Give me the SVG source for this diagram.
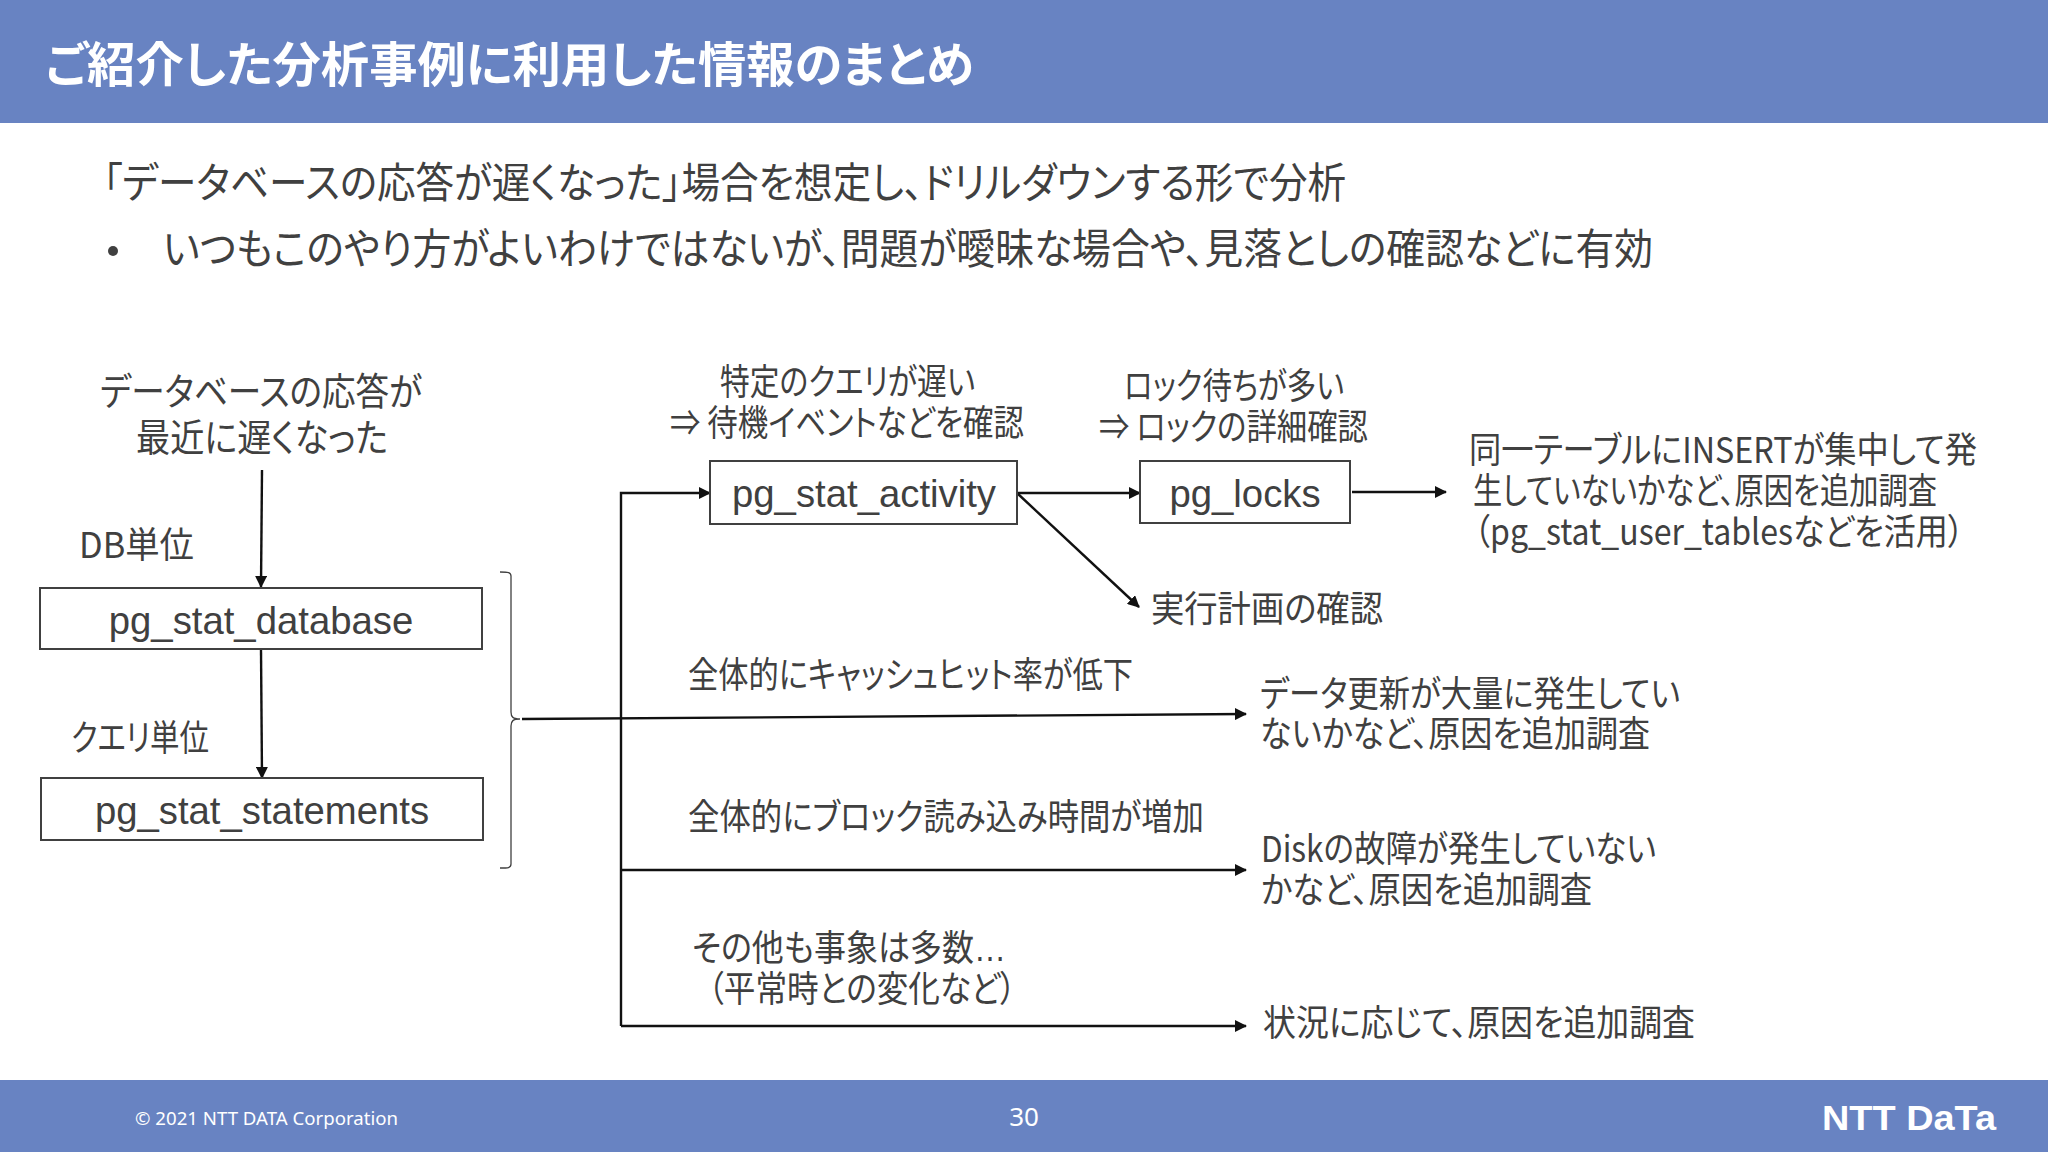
<svg xmlns="http://www.w3.org/2000/svg" width="2048" height="1152" viewBox="0 0 2048 1152">
<style>
text{font-family:"Noto Sans CJK JP","Liberation Sans",sans-serif;fill:#404040;font-size:36px;font-feature-settings:"palt"}
.m{font-family:"Liberation Sans","Noto Sans CJK JP",sans-serif;font-size:38.3px;text-anchor:middle}
.box{fill:#fff;stroke:#404040;stroke-width:2}
.c{fill:none;stroke:#111;stroke-width:2.4}
</style>
<defs><marker id="a" viewBox="0 0 12 12" refX="11" refY="6" markerWidth="12" markerHeight="12" markerUnits="userSpaceOnUse" orient="auto"><path d="M0 0L12 6L0 12Z" fill="#111"/></marker></defs>
<rect width="2048" height="1152" fill="#fff"/>
<g id="header"><rect width="2048" height="123" fill="#6883c2"/>
<text x="45" y="82" textLength="929" lengthAdjust="spacingAndGlyphs" style="font-size:48px;font-weight:700;fill:#fff">ご紹介した分析事例に利用した情報のまとめ</text></g>
<g id="intro">
<text x="103" y="198" textLength="1243" lengthAdjust="spacingAndGlyphs" style="font-size:42px">「データベースの応答が遅くなった」場合を想定し、ドリルダウンする形で分析</text>
<circle cx="113" cy="251" r="5" fill="#404040"/>
<text x="163" y="264" textLength="1490" lengthAdjust="spacingAndGlyphs" style="font-size:42px">いつもこのやり方がよいわけではないが、問題が曖昧な場合や、見落としの確認などに有効</text>
</g>
<g id="connectors">
<path class="c" d="M262 470L261 587" marker-end="url(#a)"/>
<path class="c" d="M261 650L262 778" marker-end="url(#a)"/>
<path class="c" d="M621 1026V493H710" marker-end="url(#a)"/>
<path class="c" d="M1017 493H1140" marker-end="url(#a)"/>
<path class="c" d="M1017 493L1139 607" marker-end="url(#a)"/>
<path class="c" d="M1352 492H1446" marker-end="url(#a)"/>
<path class="c" d="M522 719L1246 714" marker-end="url(#a)"/>
<path class="c" d="M621 870H1246" marker-end="url(#a)"/>
<path class="c" d="M621 1026H1246" marker-end="url(#a)"/>
<path d="M500 572C508 572 511 572 511 576V712C511 717 513 719 520 719C513 719 511 721 511 726V864C511 868 508 868 500 868" fill="none" stroke="#404040" stroke-width="1.3"/>
</g>
<g id="n-start"><text x="100" y="405" textLength="322" lengthAdjust="spacingAndGlyphs" style="font-size:38px">データベースの応答が</text>
<text x="136" y="451" textLength="252" lengthAdjust="spacingAndGlyphs" style="font-size:38px">最近に遅くなった</text></g>
<g id="l-db"><text x="79" y="558" textLength="115" lengthAdjust="spacingAndGlyphs">DB単位</text></g>
<g id="n-database"><rect class="box" x="40" y="588" width="442" height="61"/><text class="m" x="261" y="634">pg_stat_database</text></g>
<g id="l-query"><text x="71" y="751" textLength="138" lengthAdjust="spacingAndGlyphs">クエリ単位</text></g>
<g id="n-statements"><rect class="box" x="41" y="778" width="442" height="62"/><text class="m" x="262" y="824">pg_stat_statements</text></g>
<g id="n-activity"><rect class="box" x="710" y="461" width="307" height="63"/><text class="m" x="864" y="507">pg_stat_activity</text></g>
<g id="n-locks"><rect class="box" x="1140" y="461" width="210" height="62"/><text class="m" x="1245" y="507">pg_locks</text></g>
<g id="l-activity"><text x="720" y="395" textLength="255" lengthAdjust="spacingAndGlyphs">特定のクエリが遅い</text>
<text x="670" y="436" textLength="354" lengthAdjust="spacingAndGlyphs">⇒ 待機イベントなどを確認</text></g>
<g id="l-locks"><text x="1124" y="399" textLength="220" lengthAdjust="spacingAndGlyphs">ロック待ちが多い</text>
<text x="1099" y="440" textLength="269" lengthAdjust="spacingAndGlyphs">⇒ ロックの詳細確認</text></g>
<g id="n-plan"><text x="1151" y="622" textLength="232" lengthAdjust="spacingAndGlyphs">実行計画の確認</text></g>
<g id="n-insert"><text x="1469" y="463" textLength="508" lengthAdjust="spacingAndGlyphs">同一テーブルにINSERTが集中して発</text>
<text x="1473" y="504" textLength="464" lengthAdjust="spacingAndGlyphs">生していないかなど、原因を追加調査</text>
<text x="1474" y="545" textLength="490" lengthAdjust="spacingAndGlyphs">（pg_stat_user_tablesなどを活用）</text></g>
<g id="l-cache"><text x="688" y="688" textLength="445" lengthAdjust="spacingAndGlyphs">全体的にキャッシュヒット率が低下</text></g>
<g id="n-update"><text x="1260" y="707" textLength="420" lengthAdjust="spacingAndGlyphs">データ更新が大量に発生してい</text>
<text x="1260" y="747" textLength="390" lengthAdjust="spacingAndGlyphs">ないかなど、原因を追加調査</text></g>
<g id="l-block"><text x="688" y="830" textLength="516" lengthAdjust="spacingAndGlyphs">全体的にブロック読み込み時間が増加</text></g>
<g id="n-disk"><text x="1261" y="862" textLength="395" lengthAdjust="spacingAndGlyphs">Diskの故障が発生していない</text>
<text x="1261" y="903" textLength="331" lengthAdjust="spacingAndGlyphs">かなど、原因を追加調査</text></g>
<g id="l-other"><text x="692" y="961" textLength="314" lengthAdjust="spacingAndGlyphs">その他も事象は多数<tspan style="font-family:'Liberation Sans',sans-serif">…</tspan></text>
<text x="708" y="1002" textLength="308" lengthAdjust="spacingAndGlyphs">（平常時との変化など）</text></g>
<g id="n-other"><text x="1263" y="1036" textLength="432" lengthAdjust="spacingAndGlyphs">状況に応じて、原因を追加調査</text></g>
<g id="footer"><rect y="1080" width="2048" height="72" fill="#6883c2"/>
<text x="135" y="1125" textLength="263" lengthAdjust="spacingAndGlyphs" style="font-family:'Noto Sans',sans-serif;font-size:18px;fill:#fff">© 2021 NTT DATA Corporation</text>
<text x="1024" y="1126" text-anchor="middle" style="font-family:'Noto Sans',sans-serif;font-size:26px;fill:#fff">30</text>
<text x="1822" y="1130" textLength="174" lengthAdjust="spacingAndGlyphs" style="font-family:'Liberation Sans',sans-serif;font-size:35px;font-weight:700;fill:#fff">NTT DaTa</text></g>
</svg>
